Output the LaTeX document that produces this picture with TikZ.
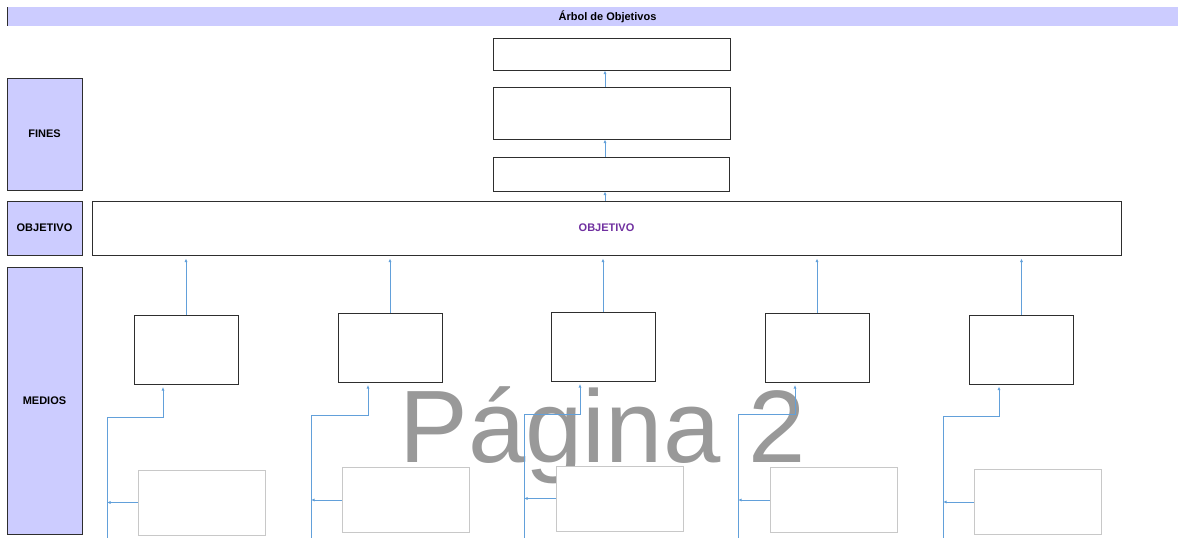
\documentclass[tikz,border=0pt]{standalone}
\usepackage{fontspec}
\setmainfont{Liberation Sans}
\usetikzlibrary{arrows.meta}
\definecolor{lav}{HTML}{CCCCFF}
\definecolor{conn}{HTML}{62A0DA}
\definecolor{purp}{HTML}{7030A0}
\definecolor{edge}{HTML}{2E2E2E}
\definecolor{lgray}{HTML}{C8C8C8}
\definecolor{wm}{HTML}{999999}
\begin{document}
\begin{tikzpicture}[x=1pt,y=-1pt,
  lab/.style={draw=edge,fill=lav,line width=1pt,inner sep=0pt,minimum width=75pt,font=\fontsize{11}{11}\selectfont\bfseries},
  box/.style={draw=edge,fill=white,line width=1pt,inner sep=0pt},
  medbox/.style={box,minimum width=104pt,minimum height=69pt},
  graybox/.style={draw=lgray,fill=white,line width=1pt,inner sep=0pt,minimum width=127pt,minimum height=65pt},
  arr/.style={draw=conn,line width=1pt,-{Latex[length=3.5pt,width=3pt]}}]
\useasboundingbox (0,0) rectangle (1178,538);
% watermark
\node[text=wm,anchor=base,inner sep=0pt,font=\fontsize{103}{103}\selectfont] (wmark) at (603,462) {Página 2};
% title bar
\fill[lav] (7,7) rectangle (1178,26);
\draw[edge,line width=1.2pt] (7.6,7) -- (7.6,26);
\node[font=\fontsize{11}{11}\selectfont\bfseries,inner sep=0pt] (title) at (607.5,16.5) {Árbol de Objetivos};
% left labels
\node[lab,minimum height=112pt] (fines) at (44.5,134) {FINES};
\node[lab,minimum height=54pt] (objlab) at (44.5,228) {OBJETIVO};
\node[lab,minimum height=267pt] (medios) at (44.5,400.5) {MEDIOS};
% top boxes
\node[box,minimum width=237pt,minimum height=32pt] (t1) at (611.5,54) {};
\node[box,minimum width=237pt,minimum height=52pt] (t2) at (611.5,113) {};
\node[box,minimum width=236pt,minimum height=34pt] (t3) at (611,174) {};
% objective
\node[box,minimum width=1029pt,minimum height=54pt,text=purp,font=\fontsize{11}{11}\selectfont\bfseries] (obj) at (606.5,228) {OBJETIVO};
% top arrows
\draw[arr] (obj.north -| 605,0) -- (t3.south -| 605,0);
\draw[arr] (t3.north -| 605,0) -- (t2.south -| 605,0);
\draw[arr] (t2.north -| 605,0) -- (t1.south -| 605,0);
% medios boxes
\node[medbox] (m1) at (186,350) {};
\node[medbox] (m2) at (390,348) {};
\node[medbox] (m3) at (603,347) {};
\node[medbox] (m4) at (817,348) {};
\node[medbox] (m5) at (1021.5,349.5) {};
\foreach \m in {m1,m2,m3,m4,m5}{
  \draw[arr,shorten >=3pt] (\m.north) -- (\m.north |- obj.south);
}
% gray boxes
\node[graybox] (g1) at (201.5,502.5) {};
\node[graybox] (g2) at (405.5,500) {};
\node[graybox] (g3) at (619.5,498.5) {};
\node[graybox] (g4) at (833.5,500) {};
\node[graybox] (g5) at (1037.5,502) {};
% branch coordinates
\coordinate (b1) at (107,540); \coordinate (h1) at (163,417);
\coordinate (b2) at (311,540); \coordinate (h2) at (368,415);
\coordinate (b3) at (524,540); \coordinate (h3) at (580,414);
\coordinate (b4) at (738,540); \coordinate (h4) at (795,414);
\coordinate (b5) at (943,540); \coordinate (h5) at (999,416);
\foreach \i in {1,2,3,4,5}{
  \draw[arr,shorten >=2pt] (b\i) |- (h\i) -- (h\i |- m\i.south);
  \draw[arr] (g\i.west) -- (g\i.west -| b\i);
}
\end{tikzpicture}
\end{document}
